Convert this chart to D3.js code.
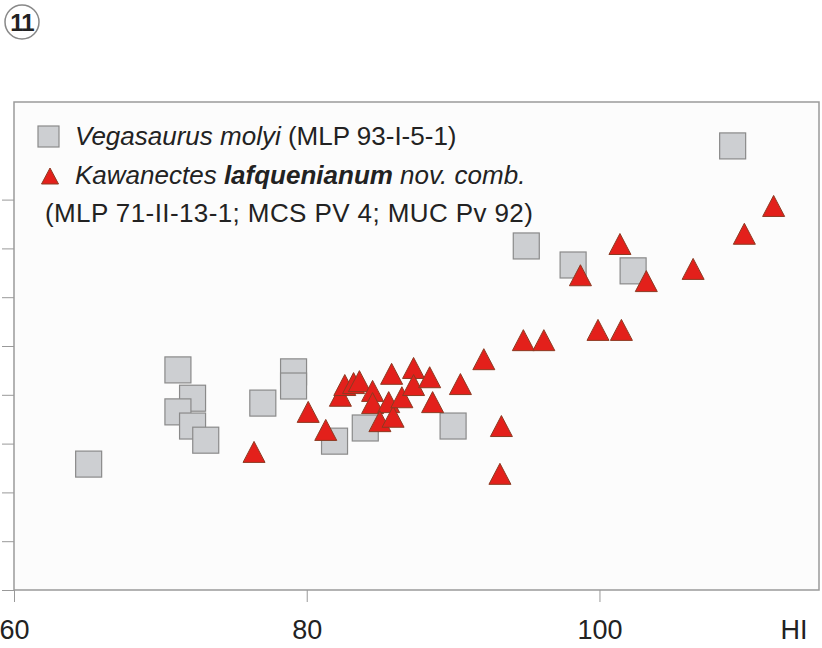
<!DOCTYPE html>
<html>
<head>
<meta charset="utf-8">
<script src="https://cdn.jsdelivr.net/npm/d3@7"></script>
<style>
  body { margin: 0; background: #fff; }
  svg { display: block; font-family: "Liberation Sans", Arial, sans-serif; }
</style>
</head>
<body>
<div id="viz"></div>
<script>
// Vegasaurus molyi (grey squares): HI vs. y (y units unknown, axis labels cropped)
var vegaHI = [65.1, 71.2, 72.2, 71.2, 72.2, 73.1, 77.0, 79.1, 79.1, 81.9, 84.0, 90.0, 95.0, 98.2, 102.3, 109.1];
var vegaY  = [2.58, 4.51, 3.93, 3.65, 3.36, 3.07, 3.83, 4.47, 4.18, 3.05, 3.32, 3.36, 7.05, 6.66, 6.54, 9.10];

// Kawanectes lafquenianum (red triangles)
var kawaHI = [76.4, 80.1, 81.3, 82.3, 82.6, 83.2, 83.6, 84.5, 84.5, 85.6, 85.0, 85.9, 85.8, 86.5, 87.3, 87.3,
              88.4, 88.6, 90.5, 92.1, 93.3, 93.2, 94.8, 96.2, 98.7, 99.9, 101.5, 101.4, 103.2, 106.4, 109.9, 111.9];
var kawaY  = [2.83, 3.65, 3.28, 3.98, 4.20, 4.24, 4.28, 4.08, 3.83, 3.85, 3.46, 3.55, 4.43, 3.95, 4.55, 4.20,
              4.36, 3.85, 4.22, 4.73, 3.36, 2.38, 5.12, 5.12, 6.45, 5.33, 5.33, 7.09, 6.33, 6.58, 7.30, 7.87];

var xTicks = [60, 80, 100];
var yTicks = [0, 1, 2, 3, 4, 5, 6, 7, 8];

var width = 822, height = 648;
var frame = {left: 14, top: 102, right: 819, bottom: 590};

var svg = d3.select("#viz").append("svg")
    .attr("width", width)
    .attr("height", height);

var x = d3.scaleLinear().domain([60, 115]).range([frame.left, frame.right]);
var y = d3.scaleLinear().domain([0, 10]).range([frame.bottom, frame.top]);

// panel number
svg.append("circle")
    .attr("cx", 22).attr("cy", 22).attr("r", 17)
    .attr("fill", "#fff").attr("stroke", "#888").attr("stroke-width", 1.5);
svg.append("text")
    .attr("x", 22).attr("y", 31)
    .attr("text-anchor", "middle")
    .attr("font-size", 24).attr("font-weight", "bold")
    .attr("letter-spacing", -1)
    .attr("fill", "#222")
    .text("11");

// plot frame
svg.append("rect")
    .attr("x", frame.left).attr("y", frame.top)
    .attr("width", frame.right - frame.left)
    .attr("height", frame.bottom - frame.top)
    .attr("fill", "#fcfcfc")
    .attr("stroke", "#9a9a9a")
    .attr("stroke-width", 1.5);

// x axis (ticks hang below the frame)
var xAxis = svg.append("g")
    .attr("transform", "translate(0," + frame.bottom + ")")
    .call(d3.axisBottom(x).tickValues(xTicks).tickSize(12).tickSizeOuter(0).tickPadding(18));
xAxis.select(".domain").remove();
xAxis.selectAll("line").attr("stroke", "#999");
xAxis.selectAll("text")
    .attr("font-size", 27)
    .attr("font-family", "Liberation Sans, Arial, sans-serif")
    .attr("fill", "#222");

svg.append("text")
    .attr("x", 794).attr("y", 639)
    .attr("text-anchor", "middle")
    .attr("font-size", 27)
    .attr("fill", "#222")
    .text("HI");

// y axis ticks only, labels fall outside the picture
var yAxis = svg.append("g")
    .attr("transform", "translate(" + frame.left + ",0)")
    .call(d3.axisLeft(y).tickValues(yTicks).tickSize(12).tickFormat(""));
yAxis.select(".domain").remove();
yAxis.selectAll("line").attr("stroke", "#999");

var sq = 26;
function triPath(cx, cy, w, h) {
  return "M" + cx + "," + (cy - h / 2) +
         "L" + (cx + w / 2) + "," + (cy + h / 2) +
         "L" + (cx - w / 2) + "," + (cy + h / 2) + "Z";
}

// squares
svg.append("g").selectAll("rect")
    .data(d3.range(vegaHI.length))
    .enter().append("rect")
    .attr("x", function(i) { return x(vegaHI[i]) - sq / 2; })
    .attr("y", function(i) { return y(vegaY[i]) - sq / 2; })
    .attr("width", sq).attr("height", sq)
    .attr("fill", "#cdcfd2")
    .attr("stroke", "#8a8a8a")
    .attr("stroke-width", 1.2);

// triangles
svg.append("g").selectAll("path")
    .data(d3.range(kawaHI.length))
    .enter().append("path")
    .attr("d", function(i) { return triPath(x(kawaHI[i]), y(kawaY[i]), 22, 21); })
    .attr("fill", "#e3201b")
    .attr("stroke", "#8c3a22")
    .attr("stroke-width", 1);

// legend
var legend = svg.append("g");
legend.append("rect")
    .attr("x", 38).attr("y", 126).attr("width", 21).attr("height", 21)
    .attr("fill", "#cdcfd2").attr("stroke", "#8a8a8a").attr("stroke-width", 1.2);
legend.append("path")
    .attr("d", triPath(50, 176, 17, 16))
    .attr("fill", "#e3201b").attr("stroke", "#8c3a22").attr("stroke-width", 1);

var t1 = legend.append("text").attr("x", 75).attr("y", 145).attr("font-size", 26).attr("fill", "#222");
t1.append("tspan").attr("font-style", "italic").text("Vegasaurus molyi");
t1.append("tspan").text(" (MLP 93-I-5-1)");

var t2 = legend.append("text").attr("x", 75).attr("y", 184).attr("font-size", 26).attr("fill", "#222");
t2.append("tspan").attr("font-style", "italic").text("Kawanectes ");
t2.append("tspan").attr("font-style", "italic").attr("font-weight", "bold").text("lafquenianum");
t2.append("tspan").attr("font-style", "italic").text(" nov. comb.");

legend.append("text").attr("x", 45).attr("y", 222).attr("font-size", 26)
    .attr("letter-spacing", 0.4).attr("fill", "#222")
    .text("(MLP 71-II-13-1; MCS PV 4; MUC Pv 92)");
</script>
</body>
</html>
